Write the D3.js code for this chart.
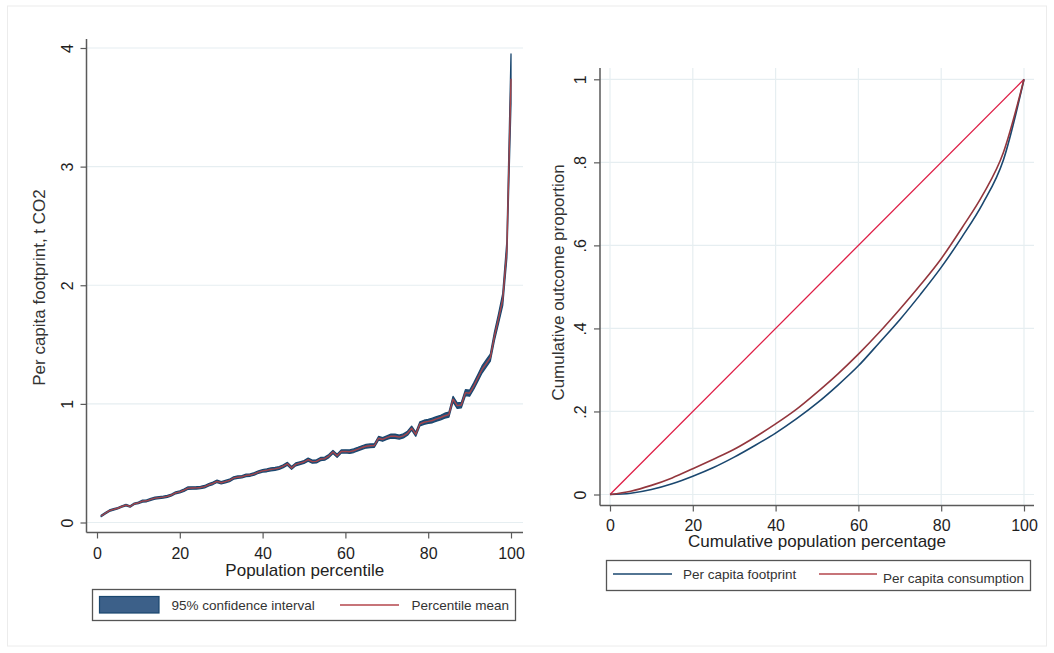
<!DOCTYPE html>
<html lang='en'>
<head>
  <meta charset='UTF-8'>
  <title>Footprint percentiles and Lorenz curves</title>
  <script src='https://d3js.org/d3.v7.min.js'></script>
  <style>
    body { margin: 0; background: #fff; }
    svg { display: block; font-family: 'Liberation Sans', Arial, sans-serif; }
  </style>
</head>
<body>
  <svg width='1054' height='653'></svg>

  <script>
    // ---- data ----
    // left panel: mean per capita footprint (t CO2) for percentiles 1..100
    var percentiles = d3.range(1, 101);
    var pctMean = [
      0.055, 0.078, 0.100, 0.110, 0.120, 0.135, 0.147, 0.135, 0.158, 0.166,
      0.180, 0.183, 0.195, 0.205, 0.210, 0.214, 0.220, 0.232, 0.250, 0.258,
      0.272, 0.290, 0.291, 0.292, 0.295, 0.302, 0.318, 0.330, 0.347, 0.335,
      0.345, 0.355, 0.375, 0.382, 0.386, 0.397, 0.400, 0.410, 0.425, 0.435,
      0.440, 0.448, 0.452, 0.460, 0.475, 0.495, 0.460, 0.490, 0.500, 0.510,
      0.530, 0.513, 0.515, 0.535, 0.538, 0.560, 0.595, 0.562, 0.598, 0.600,
      0.597, 0.605, 0.618, 0.632, 0.643, 0.647, 0.649, 0.710, 0.700, 0.715,
      0.728, 0.727, 0.720, 0.730, 0.752, 0.795, 0.744, 0.832, 0.845, 0.852,
      0.860, 0.873, 0.885, 0.900, 0.910, 1.040, 0.985, 0.990, 1.095, 1.090,
      1.150, 1.220, 1.290, 1.340, 1.390, 1.570, 1.720, 1.880, 2.300, 3.740
    ];
    // half width of the 95% confidence interval
    var ciHalf = [
      0.006, 0.006, 0.006, 0.006, 0.006, 0.006, 0.006, 0.006, 0.006, 0.006,
      0.008, 0.008, 0.008, 0.008, 0.008, 0.008, 0.008, 0.008, 0.008, 0.008,
      0.010, 0.010, 0.010, 0.010, 0.010, 0.010, 0.010, 0.010, 0.010, 0.010,
      0.010, 0.010, 0.010, 0.010, 0.010, 0.010, 0.010, 0.010, 0.010, 0.010,
      0.012, 0.012, 0.012, 0.012, 0.012, 0.012, 0.012, 0.012, 0.012, 0.012,
      0.013, 0.013, 0.013, 0.013, 0.013, 0.013, 0.013, 0.013, 0.013, 0.013,
      0.015, 0.015, 0.015, 0.015, 0.015, 0.015, 0.015, 0.015, 0.015, 0.015,
      0.017, 0.017, 0.017, 0.017, 0.017, 0.017, 0.017, 0.017, 0.017, 0.017,
      0.019, 0.019, 0.019, 0.021, 0.021, 0.023, 0.023, 0.023, 0.025, 0.025,
      0.027, 0.028, 0.030, 0.030, 0.030, 0.035, 0.040, 0.050, 0.070, 0.210
    ];

    // right panel: Lorenz curves, cumulative population share (%) vs outcome share
    var popShare = [0, 5, 10, 15, 20, 25, 30, 35, 40, 45, 50, 55, 60, 65, 70, 75, 80, 85, 90, 95, 100];
    var footprintCum = [0, 0.003, 0.012, 0.026, 0.044, 0.065, 0.090, 0.118, 0.148, 0.182, 0.220,
                        0.263, 0.310, 0.365, 0.421, 0.482, 0.547, 0.620, 0.700, 0.805, 1];
    var consumptionCum = [0, 0.008, 0.022, 0.040, 0.062, 0.085, 0.109, 0.138, 0.170, 0.205, 0.246,
                          0.290, 0.338, 0.390, 0.446, 0.505, 0.568, 0.642, 0.721, 0.823, 1];
    var equalityLine = [0, 1];
    var equalityPop = [0, 100];

    var xTicks = [0, 20, 40, 60, 80, 100];
    var leftYTicks = [0, 1, 2, 3, 4];
    var rightYTicks = [0, 0.2, 0.4, 0.6, 0.8, 1];
    var rightYLabels = ['0', '.2', '.4', '.6', '.8', '1'];

    // ---- colours ----
    var navy = '#1a476f', maroon = '#93363d', crimson = '#de1d45';
    var gridCol = '#e6eef1', axisCol = '#5a5a5a', textCol = '#1e1e1e';

    var svg = d3.select('svg');

    // faint outer frame
    svg.append('rect')
      .attr('x', 7.5).attr('y', 6).attr('width', 1039).attr('height', 640)
      .attr('fill', 'none').attr('stroke', '#ececec');

    // ================= left panel =================
    var L = {axisX: 86.5, axisY: 532.5, right: 523, top: 39};
    var xL = d3.scaleLinear().domain([0, 100]).range([97, 511]);
    var yL = d3.scaleLinear().domain([0, 4]).range([522.5, 48]);
    var gL = svg.append('g');

    gL.selectAll('line.grid').data(leftYTicks).enter().append('line')
      .attr('class', 'grid')
      .attr('x1', L.axisX).attr('x2', L.right)
      .attr('y1', d => yL(d)).attr('y2', d => yL(d))
      .attr('stroke', gridCol).attr('stroke-width', 1.2);

    var ciData = percentiles.map((p, i) => ({p: p, m: pctMean[i], h: ciHalf[i]}));
    var band = d3.area()
      .x(d => xL(d.p))
      .y0(d => yL(d.m - d.h))
      .y1(d => yL(d.m + d.h));
    gL.append('path')
      .datum(ciData)
      .attr('d', band)
      .attr('fill', '#24507c')
      .attr('stroke', navy)
      .attr('stroke-width', 1.3)
      .attr('stroke-linejoin', 'round');
    gL.append('path')
      .datum(ciData)
      .attr('d', d3.line().x(d => xL(d.p)).y(d => yL(d.m)))
      .attr('fill', 'none')
      .attr('stroke', '#a5444a')
      .attr('stroke-width', 1.4)
      .attr('stroke-linejoin', 'round');

    // axes
    var axL = gL.append('g')
      .attr('transform', 'translate(' + L.axisX + ',0)')
      .call(d3.axisLeft(yL).tickValues(leftYTicks).tickFormat(d3.format('d'))
        .tickSize(6).tickSizeOuter(0));
    axL.select('.domain').attr('d', 'M0,' + L.top + 'V' + L.axisY);
    var axBL = gL.append('g')
      .attr('transform', 'translate(0,' + L.axisY + ')')
      .call(d3.axisBottom(xL).tickValues(xTicks).tickFormat(d3.format('d'))
        .tickSize(6).tickSizeOuter(0));
    axBL.select('.domain').attr('d', 'M' + L.axisX + ',0H' + L.right);

    gL.append('text')
      .attr('transform', 'translate(45,287.5) rotate(-90)')
      .attr('text-anchor', 'middle')
      .attr('font-size', 17)
      .attr('fill', '#333')
      .text('Per capita footprint, t CO2');
    gL.append('text')
      .attr('x', (L.axisX + L.right) / 2).attr('y', 576)
      .attr('text-anchor', 'middle')
      .attr('font-size', 17)
      .attr('fill', '#222')
      .text('Population percentile');

    // legend
    var lgL = gL.append('g');
    lgL.append('rect')
      .attr('x', 92.5).attr('y', 589.5).attr('width', 423).attr('height', 31)
      .attr('fill', '#fff').attr('stroke', '#555').attr('stroke-width', 1.3);
    lgL.append('rect')
      .attr('x', 99.5).attr('y', 596.5).attr('width', 59.5).attr('height', 16.5)
      .attr('fill', '#3c6089').attr('stroke', navy).attr('stroke-width', 1.2);
    lgL.append('text')
      .attr('x', 171.5).attr('y', 610)
      .attr('font-size', 13.5).attr('fill', '#333')
      .text('95% confidence interval');
    lgL.append('line')
      .attr('x1', 340).attr('x2', 399).attr('y1', 605).attr('y2', 605)
      .attr('stroke', '#b5464c').attr('stroke-width', 1.4);
    lgL.append('text')
      .attr('x', 411.5).attr('y', 610)
      .attr('font-size', 13.5).attr('fill', '#333')
      .text('Percentile mean');

    // ================= right panel =================
    var R = {axisX: 600, axisY: 505.5, right: 1034, top: 68};
    var xR = d3.scaleLinear().domain([0, 100]).range([610, 1024]);
    var yR = d3.scaleLinear().domain([0, 1]).range([494.5, 79.3]);
    var gR = svg.append('g');

    gR.selectAll('line.hgrid').data(rightYTicks).enter().append('line')
      .attr('x1', R.axisX).attr('x2', R.right)
      .attr('y1', d => yR(d)).attr('y2', d => yR(d))
      .attr('stroke', gridCol).attr('stroke-width', 1.2);
    gR.selectAll('line.vgrid').data(xTicks).enter().append('line')
      .attr('y1', R.top).attr('y2', R.axisY)
      .attr('x1', d => xR(d)).attr('x2', d => xR(d))
      .attr('stroke', gridCol).attr('stroke-width', 1.2);

    var straight = d3.line().x(d => xR(d[0])).y(d => yR(d[1]));
    var lorenz = d3.line().x(d => xR(d[0])).y(d => yR(d[1])).curve(d3.curveMonotoneX);
    gR.append('path')
      .datum(equalityPop.map((p, i) => [p, equalityLine[i]]))
      .attr('d', straight)
      .attr('fill', 'none').attr('stroke', crimson).attr('stroke-width', 1.3);
    gR.append('path')
      .datum(popShare.map((p, i) => [p, footprintCum[i]]))
      .attr('d', lorenz)
      .attr('fill', 'none').attr('stroke', navy).attr('stroke-width', 1.6);
    gR.append('path')
      .datum(popShare.map((p, i) => [p, consumptionCum[i]]))
      .attr('d', lorenz)
      .attr('fill', 'none').attr('stroke', maroon).attr('stroke-width', 1.6);

    var axR = gR.append('g')
      .attr('transform', 'translate(' + R.axisX + ',0)')
      .call(d3.axisLeft(yR).tickValues(rightYTicks).tickSize(6).tickSizeOuter(0)
        .tickFormat((d, i) => rightYLabels[i]));
    axR.select('.domain').attr('d', 'M0,' + R.top + 'V' + R.axisY);
    var axBR = gR.append('g')
      .attr('transform', 'translate(0,' + R.axisY + ')')
      .call(d3.axisBottom(xR).tickValues(xTicks).tickFormat(d3.format('d'))
        .tickSize(6).tickSizeOuter(0));
    axBR.select('.domain').attr('d', 'M' + R.axisX + ',0H' + R.right);

    gR.append('text')
      .attr('transform', 'translate(564,282.5) rotate(-90)')
      .attr('text-anchor', 'middle')
      .attr('font-size', 17)
      .attr('fill', '#333')
      .text('Cumulative outcome proportion');
    gR.append('text')
      .attr('x', (R.axisX + R.right) / 2).attr('y', 547)
      .attr('text-anchor', 'middle')
      .attr('font-size', 17)
      .attr('fill', '#222')
      .text('Cumulative population percentage');

    var lgR = gR.append('g');
    lgR.append('rect')
      .attr('x', 606.5).attr('y', 560.5).attr('width', 424).attr('height', 30)
      .attr('fill', '#fff').attr('stroke', '#555').attr('stroke-width', 1.3);
    lgR.append('line')
      .attr('x1', 613).attr('x2', 672).attr('y1', 574).attr('y2', 574)
      .attr('stroke', navy).attr('stroke-width', 1.4);
    lgR.append('text')
      .attr('x', 683).attr('y', 578.5)
      .attr('font-size', 13.5).attr('fill', '#333')
      .text('Per capita footprint');
    lgR.append('line')
      .attr('x1', 819).attr('x2', 877).attr('y1', 574).attr('y2', 574)
      .attr('stroke', '#b5464c').attr('stroke-width', 1.4);
    lgR.append('text')
      .attr('x', 883).attr('y', 583)
      .attr('font-size', 13.5).attr('fill', '#333')
      .text('Per capita consumption');

    // shared axis styling (Stata look: rotated y labels)
    svg.selectAll('.domain').attr('stroke', axisCol).attr('stroke-width', 1.5);
    svg.selectAll('.tick line').attr('stroke', axisCol).attr('stroke-width', 1.2);
    svg.selectAll('.tick text')
      .attr('font-family', "'Liberation Sans', Arial, sans-serif")
      .attr('font-size', 16)
      .attr('fill', textCol);
    [axL, axR].forEach(ax => {
      ax.selectAll('.tick text')
        .attr('x', null).attr('dy', null)
        .attr('text-anchor', 'middle')
        .attr('transform', 'translate(-14,0) rotate(-90)');
    });
    axBL.selectAll('.tick text').attr('y', 15).attr('dy', '0.71em');
    axBR.selectAll('.tick text').attr('y', 14).attr('dy', '0.71em');
  </script>
</body>
</html>
